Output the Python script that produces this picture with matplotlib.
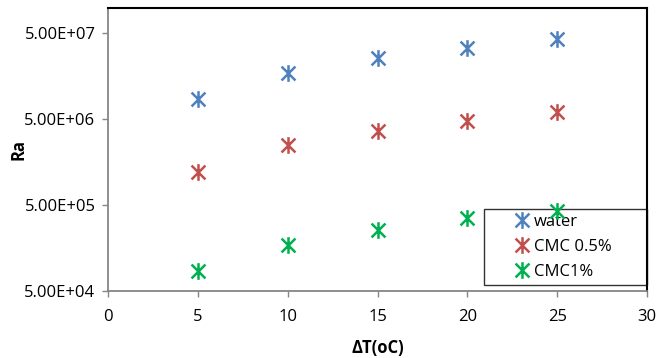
import numpy as np
import matplotlib.pyplot as plt
from matplotlib.path import Path

# temperature difference and Rayleigh numbers
dT = [5, 10, 15, 20, 25]
ra_water = [8.57e6, 1.71e7, 2.56e7, 3.40e7, 4.29e7]
ra_cmc05 = [1.20e6, 2.49e6, 3.63e6, 4.79e6, 6.00e6]
ra_cmc1 = [8.56e4, 1.70e5, 2.55e5, 3.52e5, 4.28e5]
labels = ['water', 'CMC 0.5%', 'CMC1%']
colors = ['#4F81BD', '#C0504D', '#00B050']
yticks = [5e4, 5e5, 5e6, 5e7]

# excel style star marker: an x with a vertical bar
star = Path([(-1, -1), (1, 1), (-1, 1), (1, -1), (0, -1.2), (0, 1.2)],
            [Path.MOVETO, Path.LINETO, Path.MOVETO, Path.LINETO, Path.MOVETO, Path.LINETO])

plt.rcParams['font.family'] = ['Open Sans', 'DejaVu Sans']
fig = plt.figure(figsize=(6.57, 3.58), dpi=100)
ax = fig.add_axes([0.1644, 0.188, 0.8204, 0.791])

for ys, lab, c in zip([ra_water, ra_cmc05, ra_cmc1], labels, colors):
    ax.plot(dT, ys, linestyle='none', marker=star, markersize=12, markeredgewidth=1.8,
            color=c, label=lab, zorder=3)

ax.set_yscale('log')
ax.set_ylim(5e4, 1e8)
ax.set_xlim(0, 30)
ax.set_xticks(range(0, 31, 5))
ax.set_yticks(yticks)
ax.set_yticklabels(['%.2E' % v for v in yticks])
ax.yaxis.set_minor_locator(plt.NullLocator())
ax.tick_params(axis='both', labelsize=12, color='#868686', length=4, width=1)
ax.tick_params(axis='x', pad=9)
ax.tick_params(axis='y', pad=5)

for s in ['left', 'bottom']:
    ax.spines[s].set_color('#868686')
    ax.spines[s].set_linewidth(1.3)
for s in ['top', 'right']:
    ax.spines[s].set_color('black')
    ax.spines[s].set_linewidth(1.5)

ax.set_xlabel('ΔT(oC)', fontsize=12, fontweight='bold', labelpad=10)
ax.set_ylabel('Ra', fontsize=12, fontweight='bold')
ax.yaxis.set_label_coords(-0.150, 0.5)

leg = ax.legend(loc='upper left', bbox_to_anchor=(0.698, 0.288, 0.302, 0.0), mode='expand',
                fontsize=12, frameon=True, fancybox=False, edgecolor='black',
                handlelength=3.9, handletextpad=-1.2, labelspacing=0.53,
                borderpad=0.3, borderaxespad=0, numpoints=1)
leg.get_frame().set_linewidth(1.0)
leg.set_zorder(1)

plt.savefig('out.png', dpi=100)
